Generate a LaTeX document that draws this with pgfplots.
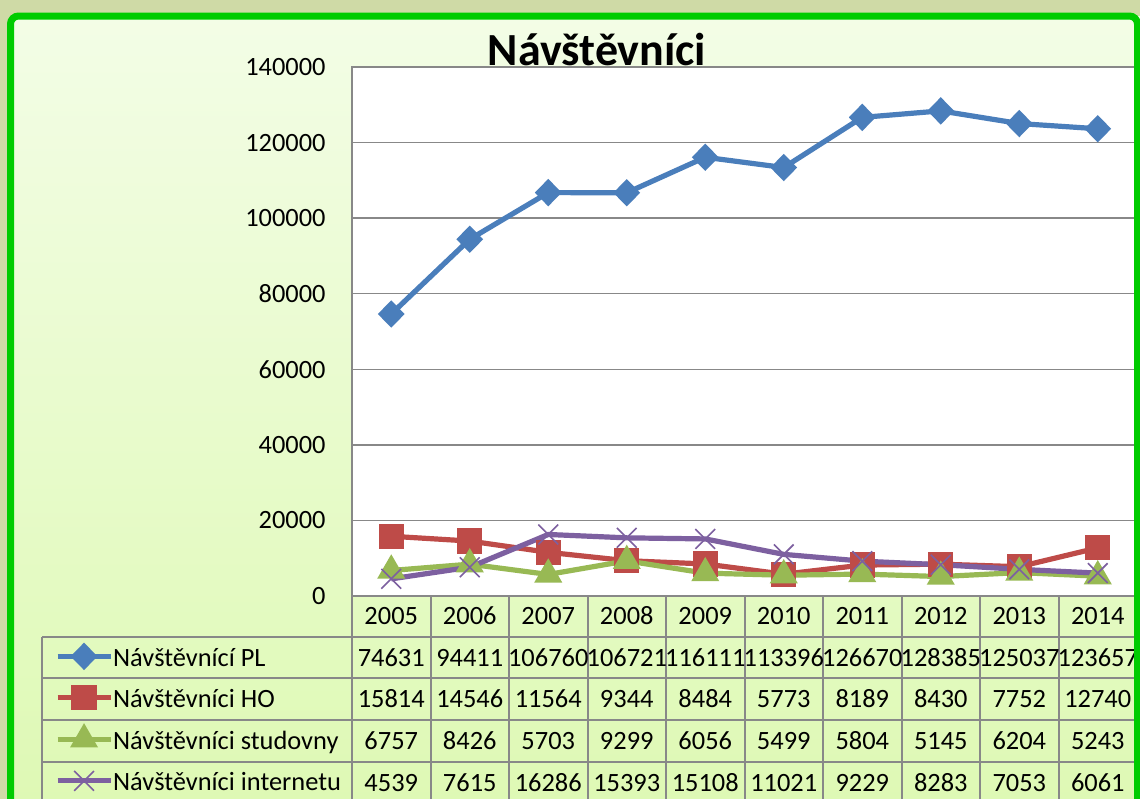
\documentclass[border=0pt]{standalone}
\usepackage{pgfplots}
\pgfplotsset{compat=1.18}
\usepackage{fontspec}
\setmainfont{Carlito}
\definecolor{cblue}{HTML}{4A7EBB}
\definecolor{cred}{HTML}{BE4B48}
\definecolor{cgreen}{HTML}{98B954}
\definecolor{cpurple}{HTML}{7D60A0}
\definecolor{outerbg}{HTML}{CFDAA6}
\definecolor{innertop}{HTML}{F3FDE6}
\definecolor{innerbot}{HTML}{DEF9B4}
\definecolor{framegreen}{HTML}{00CC00}
\definecolor{gridgray}{HTML}{888888}
\newcommand{\tf}{\fontsize{13.2}{15}\selectfont}
\begin{document}
\begin{tikzpicture}[x=0.5pt,y=-0.5pt]
\useasboundingbox (0,0) rectangle (1140,798);
\fill[outerbg] (-5,-5) rectangle (1150,810);
\shade[top color=innertop, bottom color=innerbot] (10,16) rectangle (1150,810);
% table grid
\begin{scope}[gridgray, line width=1pt]
\foreach \yy in {637,678,720,762} \draw (42,\yy) -- (1140,\yy);
\draw (42,637) -- (42,810);
\foreach \k in {0,...,9} \draw ({352+78.5*\k},596) -- ({352+78.5*\k},810);
\end{scope}
% table values
\begin{scope}[every node/.style={anchor=base, inner sep=0pt, font=\tf}]
\foreach \v [count=\i from 0] in {74631,94411,106760,106721,116111,113396,126670,128385,125037,123657}
  \node at ({391.25+78.5*\i},666) {\v};
\foreach \v [count=\i from 0] in {15814,14546,11564,9344,8484,5773,8189,8430,7752,12740}
  \node at ({391.25+78.5*\i},707.5) {\v};
\foreach \v [count=\i from 0] in {6757,8426,5703,9299,6056,5499,5804,5145,6204,5243}
  \node at ({391.25+78.5*\i},749.5) {\v};
\foreach \v [count=\i from 0] in {4539,7615,16286,15393,15108,11021,9229,8283,7053,6061}
  \node at ({391.25+78.5*\i},791) {\v};
\end{scope}
\begin{axis}[
  at={(176pt,-298pt)}, anchor=south west,
  width=392.5pt, height=264.5pt, scale only axis,
  xmin=-0.5, xmax=9.5, ymin=0, ymax=140000,
  ytick={0,20000,...,140000},
  xtick={0,...,9},
  xticklabels={2005,2006,2007,2008,2009,2010,2011,2012,2013,2014},
  scaled y ticks=false,
  /pgf/number format/fixed,
  /pgf/number format/1000 sep={},
  /pgf/number format/assume math mode=true,
  major tick length=0pt,
  ymajorgrids,
  grid style={draw=gridgray, line width=0.75pt},
  axis line style={draw=gridgray, line width=0.75pt},
  axis background/.style={fill=white},
  tick label style={font=\tf},
  yticklabel style={anchor=east, inner sep=0pt, xshift=-13pt},
  xticklabel style={anchor=base, inner sep=0pt, yshift=-14.25pt},
  legend cell align=left,
  legend image code/.code={\draw[mark repeat=2,mark phase=2,#1] plot coordinates {(0pt,0.7pt)(13.25pt,0.7pt)(26.5pt,0.7pt)};},
  legend style={at={(axis description cs:-0.3784,-0.0775)}, anchor=north west,
    draw=none, fill=none, inner sep=0pt, outer sep=0pt, row sep=0pt,
    /tikz/every even column/.style={column sep=0pt},
    nodes={inner sep=0pt, text height=14.6pt, text depth=6.15pt, font=\tf}},
  every axis plot/.append style={line width=2.6pt},
]
\addplot[cblue, mark=diamond*, mark size=5pt, mark options={solid, xscale=1.3}] coordinates {
(0,74631)(1,94411)(2,106760)(3,106721)(4,116111)(5,113396)(6,126670)(7,128385)(8,125037)(9,123657)};
\addlegendentry{Návštěvnící PL}
\addplot[cred, mark=square*, mark size=5pt, mark options={solid}] coordinates {
(0,15814)(1,14546)(2,11564)(3,9344)(4,8484)(5,5773)(6,8189)(7,8430)(8,7752)(9,12740)};
\addlegendentry{Návštěvníci HO}
\addplot[cgreen, mark=triangle*, mark size=5.5pt, mark options={solid}] coordinates {
(0,6757)(1,8426)(2,5703)(3,9299)(4,6056)(5,5499)(6,5804)(7,5145)(8,6204)(9,5243)};
\addlegendentry{Návštěvníci studovny}
\addplot[cpurple, mark=x, mark size=7pt, mark options={solid, line width=0.8pt}] coordinates {
(0,4539)(1,7615)(2,16286)(3,15393)(4,15108)(5,11021)(6,9229)(7,8283)(8,7053)(9,6061)};
\addlegendentry{Návštěvníci internetu}
\end{axis}
\node[anchor=base, inner sep=0pt, font=\fontsize{23}{26}\selectfont\bfseries] at (597,65) {Návštěvníci};
\draw[framegreen, line width=3.5pt, rounded corners=4pt] (10.5,16) rectangle (1137.5,840);
\end{tikzpicture}
\end{document}
